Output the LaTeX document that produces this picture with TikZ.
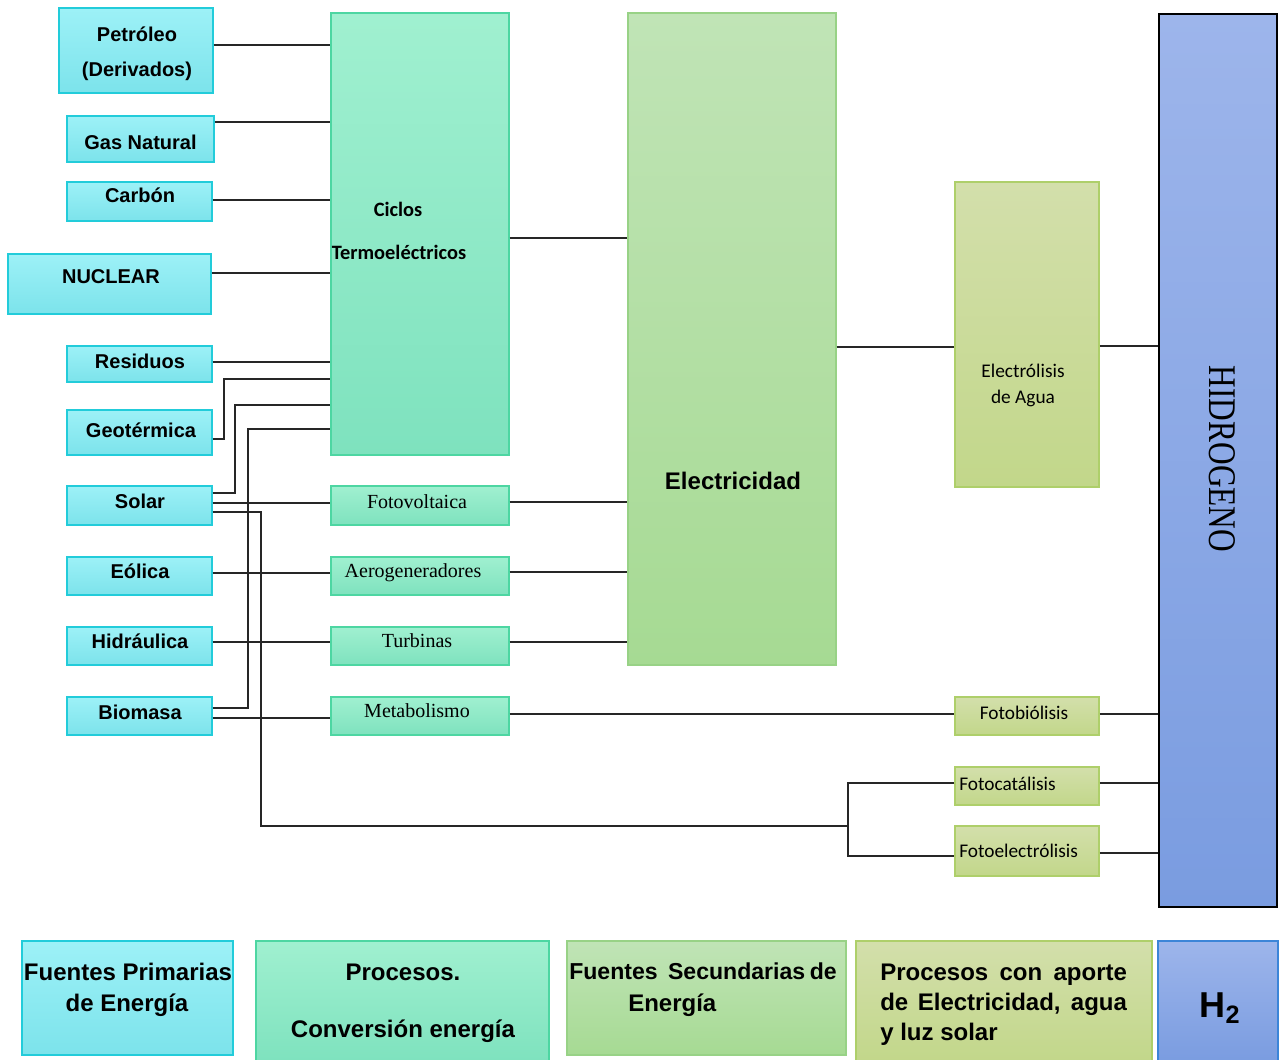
\documentclass[tikz,border=0pt]{standalone}
\usepackage{fontspec}
\setmainfont{Liberation Serif}
\newfontfamily\arialf{Liberation Sans}
\newfontfamily\calibf{Carlito}
\usetikzlibrary{fit}
\definecolor{cyT}{HTML}{9DF1F7}
\definecolor{cyB}{HTML}{7CE3EB}
\definecolor{cyD}{HTML}{22CCDA}
\definecolor{mnT}{HTML}{A0F0D0}
\definecolor{mnB}{HTML}{7EE2BE}
\definecolor{mnD}{HTML}{4DD6A2}
\definecolor{elT}{HTML}{C0E4B6}
\definecolor{elB}{HTML}{A6DA93}
\definecolor{elD}{HTML}{98D286}
\definecolor{olT}{HTML}{D3DFAB}
\definecolor{olB}{HTML}{C2D78A}
\definecolor{olD}{HTML}{AECF6A}
\definecolor{blT}{HTML}{9DB5EB}
\definecolor{blB}{HTML}{7A9CE0}
\definecolor{blD}{HTML}{3C85D8}
\tikzset{
  base/.style={inner sep=0pt, line width=1.1pt},
  prim/.style={base, draw=cyD, top color=cyT, bottom color=cyB},
  proc/.style={base, draw=mnD, top color=mnT, bottom color=mnB},
  sec/.style={base, draw=elD, top color=elT, bottom color=elB},
  ely/.style={base, draw=olD, top color=olT, bottom color=olB},
  hyd/.style={base, draw=black, line width=2.2pt, top color=blT, bottom color=blB},
  hleg/.style={base, draw=blD, top color=blT, bottom color=blB},
  conn/.style={draw=black!85, line width=0.9pt},
  ab/.style={font=\arialf\bfseries\fontsize{15}{18}\selectfont, anchor=base, inner sep=0pt},
  cb/.style={font=\calibf\bfseries\fontsize{15.3}{18}\selectfont, anchor=base, inner sep=0pt},
  cr/.style={font=\calibf\fontsize{14.5}{17}\selectfont, anchor=base, inner sep=0pt},
  sr/.style={font=\fontsize{15}{18}\selectfont, anchor=base, inner sep=0pt},
  lg/.style={font=\arialf\bfseries\fontsize{18}{21}\selectfont, anchor=base, inner sep=0pt},
}
\begin{document}
\begin{tikzpicture}[x=0.75pt, y=-0.75pt]
\useasboundingbox (0,0) rectangle (1280,1059);
% primary sources
\node[prim, fit={(59,8) (213,93)}] (pet) {};
\node[prim, fit={(67,116) (214,162)}] (gas) {};
\node[prim, fit={(67,182) (212,221)}] (car) {};
\node[prim, fit={(8,254) (211,314)}] (nuc) {};
\node[prim, fit={(67,346) (212,382)}] (res) {};
\node[prim, fit={(67,410) (212,455)}] (geo) {};
\node[prim, fit={(67,486) (212,525)}] (sol) {};
\node[prim, fit={(67,557) (212,595)}] (eol) {};
\node[prim, fit={(67,627) (212,665)}] (hid) {};
\node[prim, fit={(67,697) (212,735)}] (bio) {};
\node[ab] (tpet1) at (137,42) {Petróleo};
\node[ab] (tpet2) at (137,77) {(Derivados)};
\node[ab] (tgas) at (140.5,150) {Gas Natural};
\node[ab] (tcar) at (140,203) {Carbón};
\node[ab] (tnuc) at (111,283) {NUCLEAR};
\node[ab] (tres) at (140,368) {Residuos};
\node[ab] (tgeo) at (141,437) {Geotérmica};
\node[ab] (tsol) at (140,508) {Solar};
\node[ab] (teol) at (140,578) {Eólica};
\node[ab] (thid) at (140,648) {Hidráulica};
\node[ab] (tbio) at (140,719) {Biomasa};
% processes
\node[proc, fit={(331,13) (509,455)}] (cic) {};
\node[cb] (tcic1) at (398,217) {Ciclos};
\node[cb] (tcic2) at (399,259) {Termoeléctricos};
\node[proc, fit={(331,486) (509,525)}] (fv) {};
\node[proc, fit={(331,557) (509,595)}] (aer) {};
\node[proc, fit={(331,627) (509,665)}] (tur) {};
\node[proc, fit={(331,697) (509,735)}] (met) {};
\node[sr] (tfv) at (417,508) {Fotovoltaica};
\node[sr] (taer) at (413,577) {Aerogeneradores};
\node[sr] (ttur) at (417,647) {Turbinas};
\node[sr] (tmet) at (417,717) {Metabolismo};
% electricity
\node[sec, fit={(628,13) (836,665)}] (ele) {};
\node[font=\arialf\bfseries\fontsize{18}{21}\selectfont, anchor=base, inner sep=0pt] (tele) at (733,489.5) {Electricidad};
% electrolysis etc
\node[ely, fit={(955,182) (1099,487)}] (eag) {};
\node[cr] (teag1) at (1023,377) {Electrólisis};
\node[cr] (teag2) at (1023,403) {de Agua};
\node[ely, fit={(955,697) (1099,735)}] (fbi) {};
\node[ely, fit={(955,767) (1099,805)}] (fca) {};
\node[ely, fit={(955,826) (1099,876)}] (fel) {};
\node[cr] (tfbi) at (1024,719) {Fotobiólisis};
\node[cr, anchor=base west] (tfca) at (959,790) {Fotocatálisis};
\node[cr, anchor=base west] (tfel) at (959,857) {Fotoelectrólisis};
% hydrogen
\node[hyd, fit={(1159,14) (1277,907)}] (hyd) {};
\node[rotate=-90, inner sep=0pt, font=\fontsize{23.5}{26}\selectfont] (thyd) at (1222,459) {\scalebox{1}[1.25]{HIDROGENO}};
% connectors
\draw[conn] (pet.east |- 0,45) -- (cic.west |- 0,45);
\draw[conn] (gas.east |- 0,122) -- (cic.west |- 0,122);
\draw[conn] (car.east |- 0,200) -- (cic.west |- 0,200);
\draw[conn] (nuc.east |- 0,273) -- (cic.west |- 0,273);
\draw[conn] (res.east |- 0,362) -- (cic.west |- 0,362);
\draw[conn] (geo.east |- 0,439) -| (224,379) -- (cic.west |- 0,379);
\draw[conn] (sol.east |- 0,493) -| (235,405) -- (cic.west |- 0,405);
\draw[conn] (bio.east |- 0,708) -| (248,429) -- (cic.west |- 0,429);
\draw[conn] (sol.east |- 0,503) -- (fv.west |- 0,503);
\draw[conn] (eol.east |- 0,573) -- (aer.west |- 0,573);
\draw[conn] (hid.east |- 0,642) -- (tur.west |- 0,642);
\draw[conn] (bio.east |- 0,718) -- (met.west |- 0,718);
\coordinate (fork) at (848,826);
\draw[conn] (sol.east |- 0,512) -| (261,826) -- (fork);
\draw[conn] (fca.west |- 0,783) -| (fork) |- (fel.west |- 0,856);
\draw[conn] (cic.east |- 0,238) -- (ele.west |- 0,238);
\draw[conn] (fv.east |- 0,502) -- (ele.west |- 0,502);
\draw[conn] (aer.east |- 0,572) -- (ele.west |- 0,572);
\draw[conn] (tur.east |- 0,642) -- (ele.west |- 0,642);
\draw[conn] (met.east |- 0,714) -- (fbi.west |- 0,714);
\draw[conn] (ele.east |- 0,347) -- (eag.west |- 0,347);
\draw[conn] (eag.east |- 0,346) -- (hyd.west |- 0,346);
\draw[conn] (fbi.east |- 0,714) -- (hyd.west |- 0,714);
\draw[conn] (fca.east |- 0,783) -- (hyd.west |- 0,783);
\draw[conn] (fel.east |- 0,853) -- (hyd.west |- 0,853);
% legend
\node[prim, fit={(22,941) (233,1055)}] (l1) {};
\node[proc, fit={(256,941) (549,1062)}] (l2) {};
\node[sec, fit={(567,941) (846,1055)}] (l3) {};
\node[ely, fit={(856,941) (1152,1062)}] (l4) {};
\node[hleg, fit={(1158,941) (1278,1062)}] (l5) {};
\node[lg] (tl1a) at (128,980) {Fuentes Primarias};
\node[lg] (tl1b) at (127,1011) {de Energía};
\node[lg] (tl2a) at (403,980) {Procesos.};
\node[lg] (tl2b) at (403,1037) {Conversión energía};
\node[lg, anchor=base west, font=\arialf\bfseries\fontsize{17.3}{21}\selectfont] (tl3a) at (569,979) {Fuentes\hspace{0.45em}Secundarias\hspace{0.2em}de};
\node[lg, anchor=base west] (tl3b) at (628,1011) {Energía};
\node[lg, anchor=base west] (tl4a) at (880,980) {\makebox[185pt][s]{Procesos con aporte}};
\node[lg, anchor=base west] (tl4b) at (880,1010) {\makebox[185pt][s]{de Electricidad, agua}};
\node[lg, anchor=base west] (tl4c) at (880,1040) {y luz solar};
\node[font=\arialf\bfseries\fontsize{27}{30}\selectfont, anchor=base, inner sep=0pt] (th2) at (1220,1017) {H\textsubscript{2}};
\end{tikzpicture}
\end{document}
